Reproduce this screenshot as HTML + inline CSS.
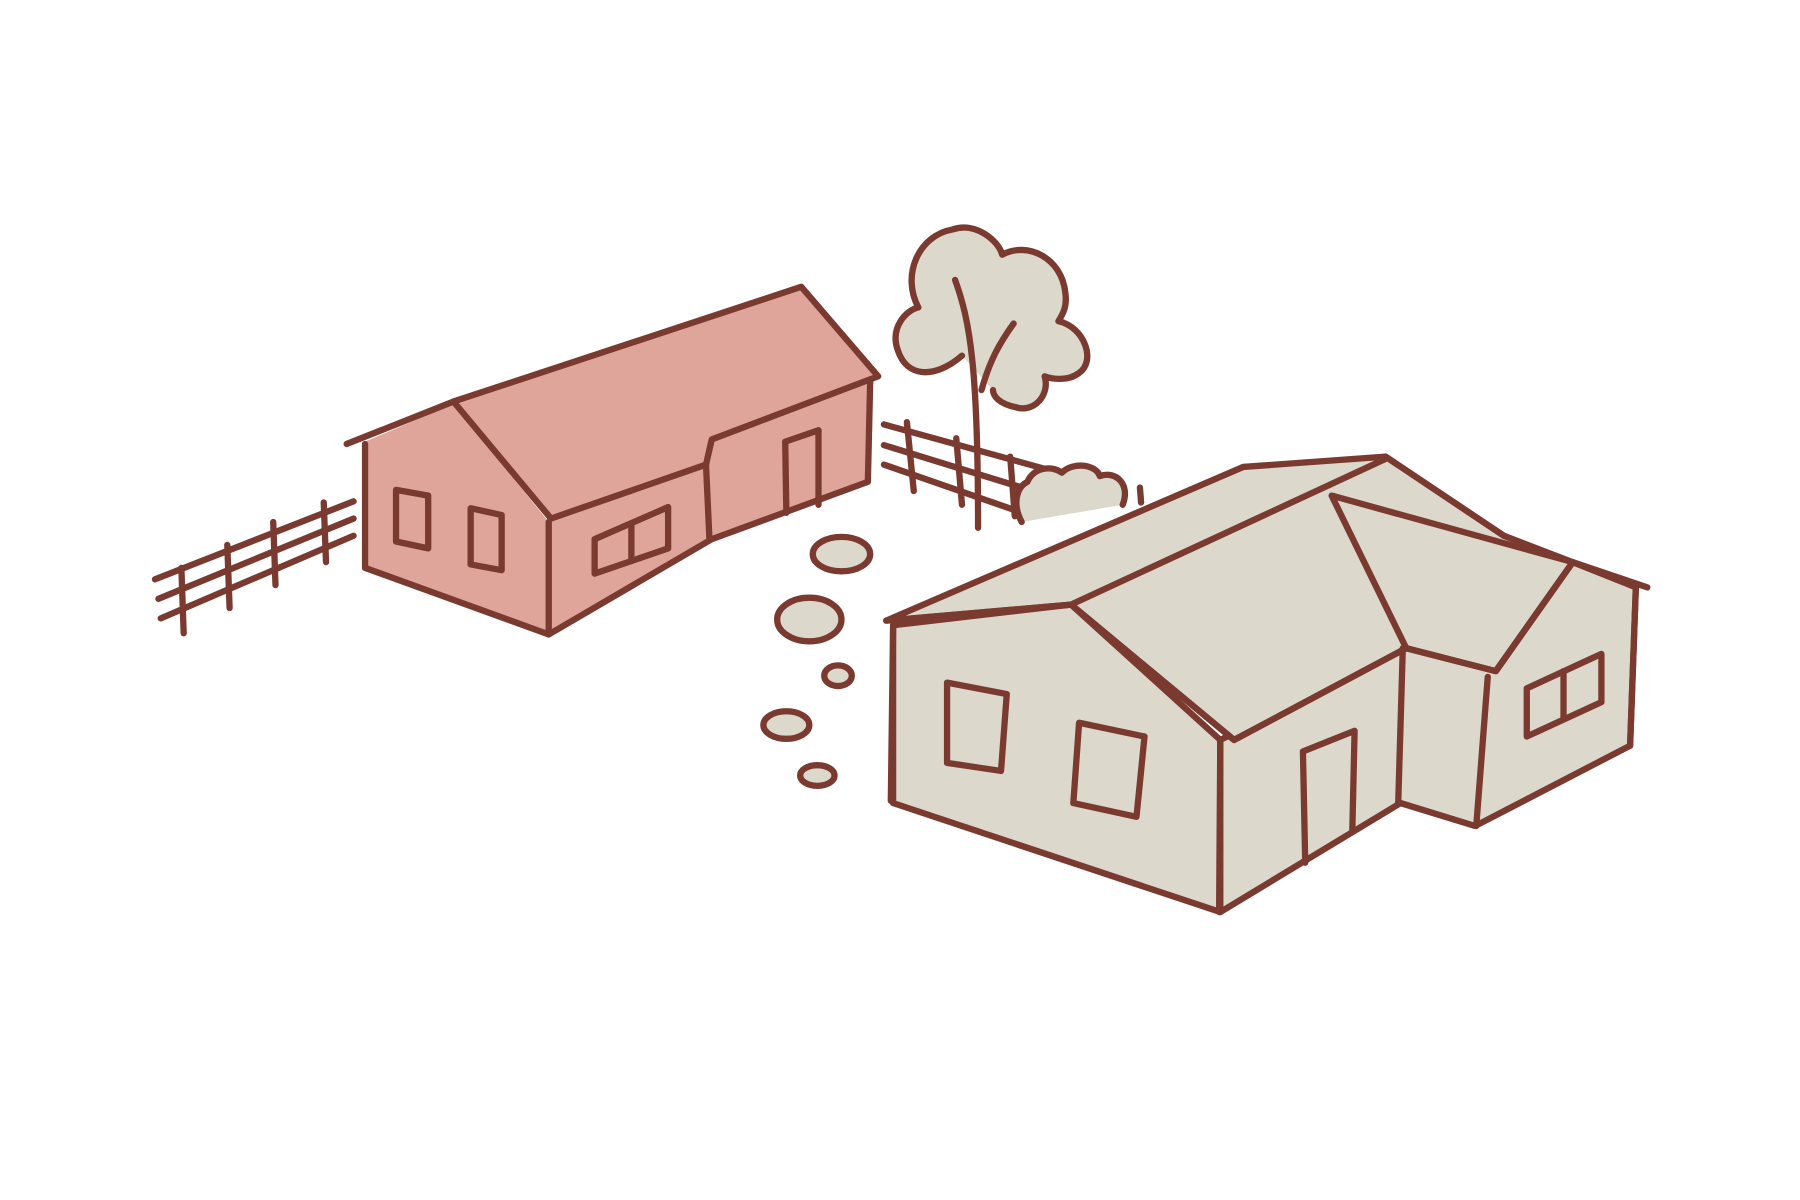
<!DOCTYPE html>
<html><head><meta charset="utf-8"><style>
html,body{margin:0;padding:0;background:#fff;width:1800px;height:1200px;overflow:hidden}
svg{display:block}
</style></head><body>
<svg width="1800" height="1200" viewBox="0 0 1568 1046" preserveAspectRatio="none" xmlns="http://www.w3.org/2000/svg">
<g stroke="#7b3a30" stroke-width="5.5" stroke-linecap="round" stroke-linejoin="round" fill="none">
<!-- left fence -->
<g>
<line x1="135" y1="505" x2="308" y2="437"/>
<line x1="138" y1="522" x2="308" y2="452"/>
<line x1="140" y1="539" x2="308" y2="467"/>
<line x1="158" y1="495" x2="160" y2="552"/>
<line x1="198" y1="475" x2="200" y2="530"/>
<line x1="238" y1="455" x2="240" y2="510"/>
<line x1="282" y1="438" x2="284" y2="490"/>
</g>
<!-- right fence -->
<g>
<line x1="770" y1="370" x2="915" y2="410"/>
<line x1="770" y1="388" x2="900" y2="428"/>
<line x1="770" y1="405" x2="885" y2="445"/>
<line x1="790" y1="368" x2="796" y2="428"/>
<line x1="833" y1="382" x2="838" y2="440"/>
<line x1="880" y1="398" x2="884" y2="450"/>
</g>
<!-- tree -->
<path d="M838 310 C815 330 790 330 782 305 C775 285 790 270 800 268 C785 240 800 205 830 200 C850 193 870 210 873 222 C895 210 925 225 928 255 C930 268 925 275 922 280 C945 285 955 315 940 325 C930 333 915 330 910 328 C915 345 900 360 885 355 C870 352 865 345 865 340" fill="#dcd8cc"/>
<path d="M832 244 C845 280 852 320 852 460"/>
<path d="M855 340 C862 315 870 300 883 282"/>
<!-- bush -->
<path d="M890 455 C882 440 885 425 895 420 C900 408 915 405 925 412 C935 402 955 405 958 415 C972 410 985 422 978 440 L890 455 Z" fill="#dcd8cc" stroke="none"/>
<path d="M890 455 C882 440 885 425 895 420 C900 408 915 405 925 412 C935 402 955 405 958 415 C972 410 985 422 978 440"/>
<line x1="993" y1="425" x2="994" y2="438"/>
<!-- stones -->
<g fill="#dcd8cc">
<ellipse cx="733" cy="483" rx="25" ry="15"/>
<ellipse cx="705" cy="540" rx="28" ry="19"/>
<ellipse cx="730" cy="589" rx="12" ry="9"/>
<ellipse cx="685" cy="632" rx="20" ry="12"/>
<ellipse cx="712" cy="676" rx="15" ry="9"/>
</g>
<!-- red barn -->
<g fill="#dfa59a" stroke="none">
<polygon points="318,385 395,352 478,455 478,553 318,495"/>
<polygon points="478,455 615,405 620,385 758,333 758,420 620,470 478,553"/>
<polygon points="395,350 698,250 765,328 620,383 615,405 480,452" />
</g>
<polyline points="302,387 395,350 698,250 765,328 620,383 615,405 480,452 395,350"/>
<line x1="615" y1="405" x2="618" y2="470"/>
<line x1="478" y1="455" x2="478" y2="553"/>
<polyline points="318,387 318,495 478,553 620,470 756,420 758,333"/>
<polygon points="345,427 373,432 373,478 345,472"/>
<polygon points="410,443 437,449 437,497 410,492"/>
<polygon points="518,470 582,442 582,478 518,500"/>
<line x1="550" y1="457" x2="550" y2="489"/>
<polyline points="685,447 684,385 713,375 713,440"/>
<!-- gray house -->
<g fill="#dcd8cc">
<polygon points="778,545 933,527 1063,645 1063,795 778,700"/>
<polygon points="1063,645 1225,565 1303,585 1370,490 1425,512 1420,650 1285,720 1220,700 1063,795"/>
<polygon points="772,541 1083,407 1207,398 1310,467 1370,490 1303,585 1225,565 1075,645 933,527"/>
</g>
<polyline points="772,541 933,527 1075,645 1225,565"/>
<line x1="933" y1="527" x2="1207" y2="400"/>
<polyline points="1160,432 1370,490 1303,585 1225,565 1160,432"/>
<line x1="1370" y1="490" x2="1435" y2="512"/>
<line x1="1207" y1="398" x2="1310" y2="467"/>
<line x1="778" y1="545" x2="776" y2="698"/>
<line x1="1063" y1="645" x2="1062" y2="795"/>
<line x1="1222" y1="565" x2="1218" y2="700"/>
<line x1="1296" y1="590" x2="1286" y2="720"/>
<line x1="1425" y1="512" x2="1420" y2="650"/>
<polygon points="825,595 877,605 872,672 825,665"/>
<polygon points="940,630 997,642 990,712 935,700"/>
<polyline points="1137,752 1135,655 1180,637 1178,725"/>
<polygon points="1330,600 1395,570 1395,612 1330,642"/>
<line x1="1362" y1="585" x2="1362" y2="627"/>
</g>
</svg>
</body></html>
